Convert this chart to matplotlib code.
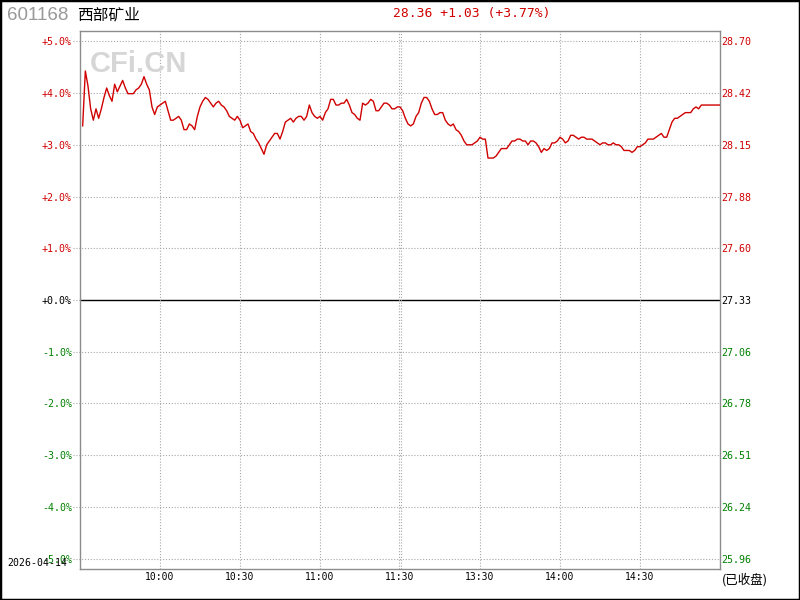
import numpy as np
import matplotlib
matplotlib.use('Agg')
import matplotlib.pyplot as plt
from matplotlib.patches import Rectangle

code = '601168'
name = '西部矿业'
trade_date = '2026-04-14'
prev_close = 27.33

# percentage grid levels (left axis), price labels on right come from prev_close
pct_levels = [5, 4, 3, 2, 1, 0, -1, -2, -3, -4, -5]

# trading minutes since 9:30 (11:30 and 13:00 share index 120)
time_ticks = [30, 60, 90, 120, 150, 180, 210]
time_labels = ['10:00', '10:30', '11:00', '11:30', '13:30', '14:00', '14:30']

minutes = np.arange(1, 241)
prices = [
    28.25, 28.54, 28.46, 28.34, 28.28, 28.34, 28.29, 28.34, 28.40, 28.45,
    28.41, 28.38, 28.47, 28.43, 28.46, 28.49, 28.45, 28.42, 28.42, 28.42,
    28.44, 28.45, 28.47, 28.51, 28.47, 28.44, 28.35, 28.31, 28.35, 28.36,
    28.37, 28.38, 28.33, 28.28, 28.28, 28.29, 28.30, 28.28, 28.23, 28.23,
    28.26, 28.25, 28.23, 28.30, 28.35, 28.38, 28.40, 28.39, 28.37, 28.35,
    28.37, 28.38, 28.36, 28.35, 28.33, 28.30, 28.29, 28.28, 28.30, 28.28,
    28.24, 28.25, 28.26, 28.22, 28.21, 28.18, 28.16, 28.13, 28.10, 28.15,
    28.17, 28.19, 28.21, 28.21, 28.18, 28.22, 28.27, 28.28, 28.29, 28.27,
    28.29, 28.30, 28.30, 28.28, 28.30, 28.36, 28.32, 28.30, 28.29, 28.30,
    28.28, 28.32, 28.34, 28.39, 28.39, 28.36, 28.36, 28.37, 28.37, 28.39,
    28.36, 28.32, 28.31, 28.29, 28.28, 28.37, 28.36, 28.37, 28.39, 28.38,
    28.33, 28.33, 28.35, 28.37, 28.37, 28.36, 28.34, 28.34, 28.35, 28.35,
    28.33, 28.29, 28.26, 28.25, 28.26, 28.30, 28.32, 28.37, 28.40, 28.40,
    28.38, 28.34, 28.31, 28.31, 28.32, 28.32, 28.28, 28.26, 28.25, 28.26,
    28.23, 28.22, 28.20, 28.17, 28.15, 28.15, 28.15, 28.16, 28.17, 28.19,
    28.18, 28.18, 28.08, 28.08, 28.08, 28.09, 28.11, 28.13, 28.13, 28.13,
    28.15, 28.17, 28.17, 28.18, 28.18, 28.17, 28.17, 28.15, 28.17, 28.17,
    28.16, 28.14, 28.11, 28.13, 28.12, 28.13, 28.16, 28.16, 28.17, 28.19,
    28.18, 28.16, 28.17, 28.20, 28.20, 28.19, 28.18, 28.19, 28.19, 28.18,
    28.18, 28.18, 28.17, 28.16, 28.15, 28.16, 28.16, 28.15, 28.15, 28.16,
    28.15, 28.15, 28.14, 28.12, 28.12, 28.12, 28.11, 28.12, 28.14, 28.14,
    28.15, 28.16, 28.18, 28.18, 28.18, 28.19, 28.20, 28.21, 28.19, 28.19,
    28.23, 28.27, 28.29, 28.29, 28.30, 28.31, 28.32, 28.32, 28.32, 28.34,
    28.35, 28.34, 28.36, 28.36, 28.36, 28.36, 28.36, 28.36, 28.36, 28.36,
]

red = '#d00000'
green = '#008000'
grid_c = '#a8a8a8'
mono = 'DejaVu Sans Mono'
cjk = ['Noto Sans CJK SC', 'DejaVu Sans']

prices = np.array(prices)
pct = (prices / prev_close - 1) * 100
last = prices[-1]
chg = last - prev_close

fig = plt.figure(figsize=(8, 6), dpi=100)
ax = fig.add_axes([80/800, 31/600, 640/800, 538/600])
ax.set_xlim(0, 240)
ax.set_ylim(-5.2, 5.2)

# grid
dot = (0, (1, 1.6))
for p in pct_levels:
    if p == 0:
        ax.hlines(p, -2.6, 0, colors=grid_c, linestyles=dot, lw=0.8, clip_on=False)
        ax.axhline(p, color='black', lw=1, zorder=2)
    else:
        ax.hlines(p, -2.6, 240, colors=grid_c, linestyles=dot, lw=0.8, clip_on=False)
for t in time_ticks:
    if t == 120:
        ax.axvline(119.6, color=grid_c, ls=dot, lw=0.8)
        ax.axvline(120.4, color=grid_c, ls=dot, lw=0.8)
    else:
        ax.axvline(t, color=grid_c, ls=dot, lw=0.8)

ax.plot(minutes, pct, color=red, lw=1.0, zorder=3)

for s in ax.spines.values():
    s.set_color('#8c8c8c')
    s.set_linewidth(1)

ax.set_yticks(pct_levels)
ax.set_yticklabels(['%+.1f%%' % p for p in pct_levels], family=mono, fontsize=7.2)
for lab, p in zip(ax.get_yticklabels(), pct_levels):
    lab.set_color(red if p > 0 else (green if p < 0 else 'black'))
ax.set_xticks(time_ticks)
ax.set_xticklabels(time_labels, family=mono, fontsize=7)
ax.tick_params(axis='y', length=0, pad=5.8)
ax.tick_params(axis='x', length=0, pad=2.5)

ax2 = ax.twinx()
ax2.set_ylim(prev_close * (1 - 0.052), prev_close * (1 + 0.052))
ax2.set_yticks([prev_close * (1 + p / 100) for p in pct_levels])
ax2.set_yticklabels(['%.2f' % (prev_close * (1 + p / 100)) for p in pct_levels],
                    family=mono, fontsize=7.2)
for lab, p in zip(ax2.get_yticklabels(), pct_levels):
    lab.set_color(red if p > 0 else (green if p < 0 else 'black'))
ax2.tick_params(axis='y', length=0, pad=0.8)
for s in ax2.spines.values():
    s.set_visible(False)

# texts
fig.text(90/800, 1 - 64/600, 'CFi.CN', family='Liberation Sans', weight='bold',
         fontsize=21, color='#d6d6d6', va='center', zorder=0)
fig.text(7/800, 1 - 16/600, code, family='Liberation Sans', fontsize=13.5,
         color='#999999', va='center')
fig.text(77/800, 1 - 15/600, name, family=cjk, fontsize=11.3, va='center')
fig.text(471.5/800, 1 - 14/600, '%.2f %+.2f (%+.2f%%)' % (last, chg, chg / prev_close * 100),
         family=mono, fontsize=9.4, color=red, ha='center', va='center')
fig.text(7/800, 1 - 563/600, trade_date, family=mono, fontsize=7.1, va='center')
fig.text(722/800, 1 - 580/600, '(已收盘)', family=cjk, fontsize=9, va='center')

fig.add_artist(Rectangle((0, 0), 1, 1, transform=fig.transFigure, fill=False,
                         ec='black', lw=2.5))

fig.savefig('out.png', dpi=100)
